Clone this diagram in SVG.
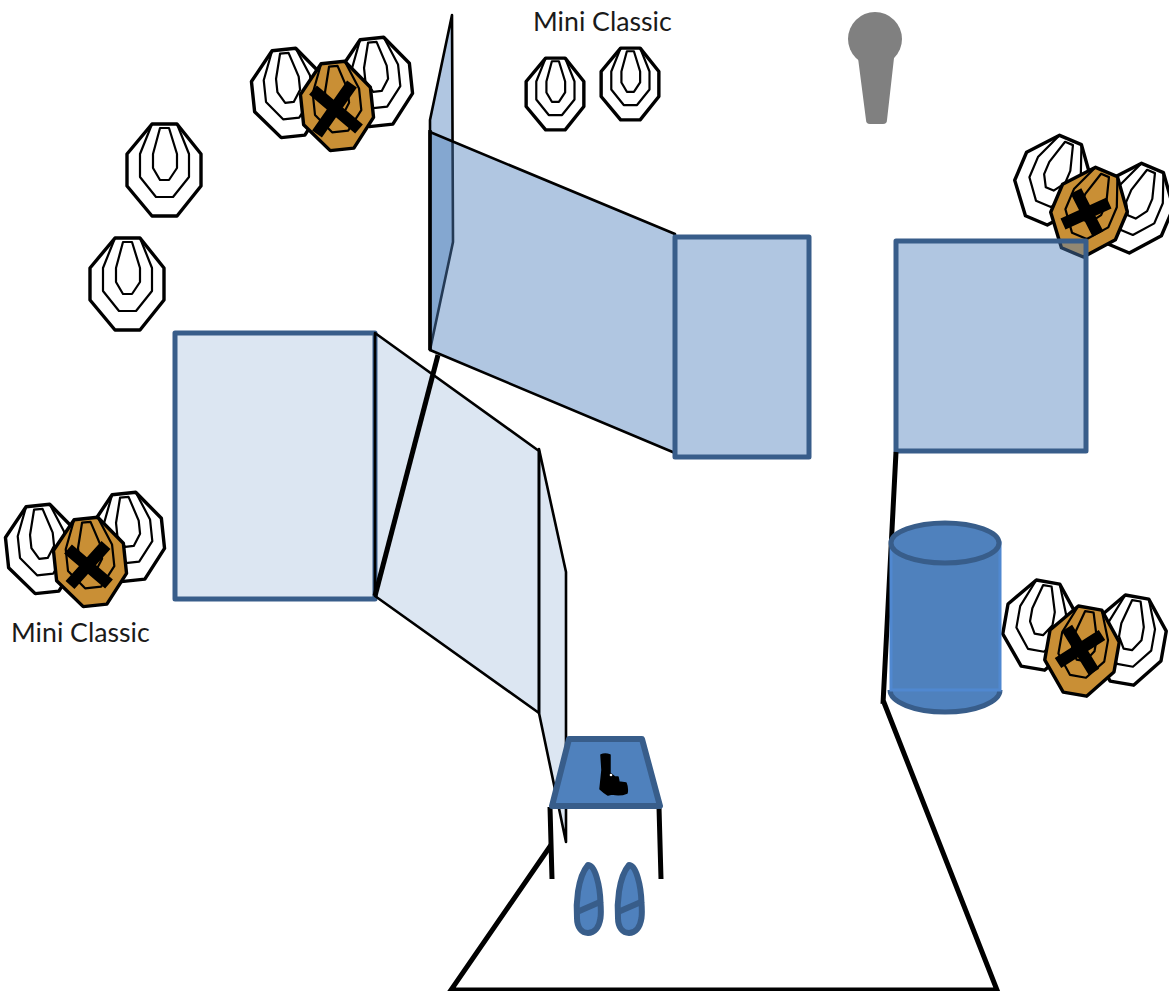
<svg xmlns="http://www.w3.org/2000/svg" width="1169" height="991" viewBox="0 0 1169 991">
<style>
.o{stroke:#000;stroke-width:3.4;stroke-linejoin:round;vector-effect:non-scaling-stroke}
.m,.i{fill:none;stroke:#000;stroke-width:2.2;stroke-linejoin:round;vector-effect:non-scaling-stroke}
.w{fill:#fff}.b{fill:#C98F35}
.x{stroke:#000;stroke-width:12;fill:none}
.dw{fill:#4F81BD;fill-opacity:.45;stroke:#000;stroke-width:2.6;stroke-linejoin:round}
.lw{fill:#4F81BD;fill-opacity:.2;stroke:#000;stroke-width:2.6;stroke-linejoin:round}
.dr{fill:#4F81BD;fill-opacity:.45;stroke:#385D8A;stroke-width:5;stroke-linejoin:round}
.lr{fill:#4F81BD;fill-opacity:.2;stroke:#385D8A;stroke-width:5;stroke-linejoin:round}
.k{fill:none;stroke:#000;stroke-width:5}
.s{fill:#4F81BD;stroke:#385D8A;stroke-width:6;stroke-linejoin:round}
text{font-family:"Lato","Liberation Sans",sans-serif;font-size:26.700px;fill:#1a1a1a}
</style>
<defs>
<g id="marks">
<polyline class="m" points="-12,-46 -24,-16 -24,7 -8,27 9,27 25,7 25,-16 13,-46"/>
<polygon class="i" points="-4,-42 5,-42 13,-16 13,-2 5,10 -4,10 -11,-2 -11,-16"/>
</g>
<g id="tw"><polygon class="o w" points="-12,-46 13,-46 37,-16 37,16 13,46 -12,46 -37,16 -37,-16"/><use href="#marks"/></g>
<g id="tb"><polygon class="o b" points="-12,-46 13,-46 37,-16 37,16 13,46 -12,46 -37,16 -37,-16"/><use href="#marks"/></g>
</defs>

<g id="target-a"><use href="#tw" transform="translate(164,170)"/></g>
<g id="target-b"><use href="#tw" transform="translate(127,284)"/></g>
<g id="target-c"><use href="#tw" transform="translate(555,94) scale(.78)"/></g>
<g id="target-d"><use href="#tw" transform="translate(630,84) scale(.78)"/></g>

<g id="cluster-top-left">
<use href="#tw" transform="translate(288,93) rotate(-6) scale(.95)"/>
<use href="#tw" transform="translate(376,82) rotate(-6) scale(.95)"/>
<use href="#tb" transform="translate(337,106) rotate(-6) scale(.95)"/>
<path class="x" d="M313 90L359 129M352 84L317 134"/>
</g>
<g id="cluster-left">
<use href="#tw" transform="translate(42,549) rotate(-6) scale(.95)"/>
<use href="#tw" transform="translate(128,537) rotate(-6) scale(.95)"/>
<use href="#tb" transform="translate(90,562) rotate(-6) scale(.95)"/>
<path class="x" d="M68 549L109 584M106 545L70 585"/>
</g>
<g id="cluster-right-top">
<use href="#tw" transform="translate(1053,180) rotate(23) scale(.95)"/>
<use href="#tw" transform="translate(1135,208) rotate(23) scale(.95)"/>
<use href="#tb" transform="translate(1089,212) rotate(23) scale(.95)"/>
<path class="x" d="M1076 191L1098 234M1109 203L1063 224"/>
</g>
<g id="cluster-right-bottom">
<use href="#tw" transform="translate(1040,625) rotate(10) scale(.95)"/>
<use href="#tw" transform="translate(1129,640) rotate(10) scale(.95)"/>
<use href="#tb" transform="translate(1082,651) rotate(10) scale(.95)"/>
<path class="x" d="M1067 628L1094 672M1102 635L1058 663"/>
</g>

<g id="wall-back">
<polygon class="dw" points="452,15 430,120 430,350 453,242"/>
<polygon class="dw" points="430,132 675,234 675,453 430,350"/>
<rect class="dr" x="675" y="237" width="134" height="220"/>
<path d="M430 130V350" fill="none" stroke="#000" stroke-width="3.500"/>
</g>
<g id="wall-right"><rect class="dr" x="896" y="241" width="190" height="210"/></g>
<g id="wall-left">
<rect class="lr" x="175" y="333" width="200" height="266"/>
<polygon class="lw" points="375,333 539,451 539,713 375,596"/>
<polygon class="lw" points="539,449 566,572 566,842 539,713"/>
</g>

<g id="connectors">
<path class="k" d="M438 355L375 596"/>
<path class="k" d="M896 452L883 704M883 700L997 990H451L551 845"/>
<path class="k" d="M550 807L552 879M659 807L661 879"/>
</g>

<g id="barrel">
<path d="M890 690A55 22 0 0 0 1000 690" fill="#4F81BD" stroke="#385D8A" stroke-width="5"/>
<rect x="891" y="543" width="109" height="147" fill="#4F81BD" stroke="#5088D0" stroke-width="3"/>
<ellipse cx="945" cy="543" rx="54" ry="20" fill="#4F81BD" stroke="#385D8A" stroke-width="5"/>
</g>
<g id="table"><polygon class="s" points="569,739 642,739 660,806 552,806"/></g>
<g id="gun">
<path d="M601 755Q605 753 610 755L610 773L615 777H618L619 782L626 783Q628 788 627 793Q620 796 612 794L608 795Q603 792 600 789L602 770Z" stroke="#000" stroke-width="1.500" stroke-linejoin="round"/>
<circle cx="611" cy="775" r="1.300" fill="#fff"/>
</g>
<g id="foot-left">
<path class="s" d="M588 865C595 865 600 885 600.500 903C601 910 601 914 600.500 918C599 928 594 933 588 933C582 933 577 928 577 918C576 905 577 878 588 865Z"/>
<path d="M577 912L600 902" stroke="#385D8A" stroke-width="6"/>
</g>
<g id="foot-right">
<path class="s" d="M629 865C636 865 641 885 641.500 903C642 910 642 914 641.500 918C640 928 635 933 629 933C623 933 618 928 618 918C617 905 618 878 629 865Z"/>
<path d="M618 912L641 902" stroke="#385D8A" stroke-width="6"/>
</g>
<g id="figure" fill="#808080">
<circle cx="875" cy="39" r="27"/>
<path d="M858 58H894L887 120Q887 124 883 124H870Q866 124 866 120Z"/>
</g>
<text x="533" y="31">Mini Classic</text>
<text x="11" y="642">Mini Classic</text>
</svg>
